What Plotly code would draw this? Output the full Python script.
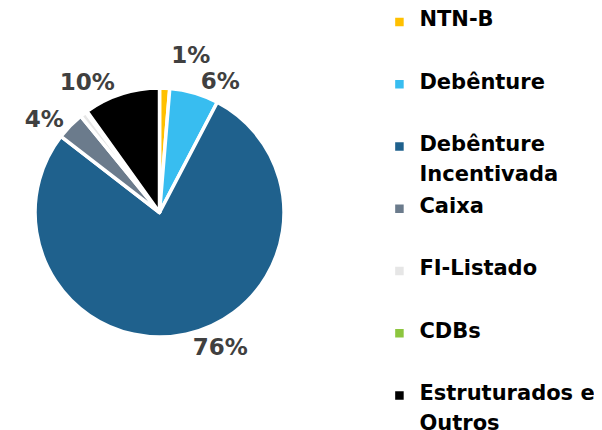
import plotly.graph_objects as go

# Composição da carteira
categorias = ["NTN-B", "Debênture", "Debênture<br>Incentivada", "Caixa",
              "FI-Listado", "CDBs", "Estruturados e<br>Outros"]
valores = [1.3, 6.3, 77.0, 3.6, 0.8, 0.2, 9.8]
rotulos = ["1%", "6%", "76%", "4%", "", "", "10%"]
cores = ["#FFC000", "#38BDF0", "#1F618D", "#6B7B8C", "#E6E6E6", "#8DC63F", "#000000"]


# legenda: fonte base pequena (entrelinha curta) e texto em span de 21px;
# cada item ocupa 4 linhas base para dar o espaçamento do original
def item_legenda(nome, ultimo=False):
    linhas = ['<span style="font-size:21px">%s</span>' % p for p in nome.split("<br>")]
    if len(linhas) == 1:
        texto = linhas[0] + "<br> <br> "
    else:
        texto = linhas[0] + "<br> <br>" + linhas[1]
    # o último item não precisa da linha vazia final
    return texto if ultimo else texto + "<br> "


nomes_legenda = [item_legenda(c, i == len(categorias) - 1) for i, c in enumerate(categorias)]
# cor do texto vai no span, assim a linha-guia do plotly fica invisível
textos = ['<span style="color:#404040;fill-opacity:1">%s</span>' % r if r else "" for r in rotulos]

fig = go.Figure(go.Pie(
    labels=nomes_legenda,
    values=valores,
    text=textos,
    textinfo="text",
    textposition="outside",
    textfont=dict(family="DejaVu Sans", size=23, color="rgba(64,64,64,0)", weight="bold"),
    marker=dict(colors=cores, line=dict(color="white", width=3.5)),
    sort=False,
    direction="clockwise",
    rotation=0,
    # a página tem 8px de margem no body: posições já descontadas
    domain=dict(x=[0.0449, 0.4585], y=[0.2848, 0.8261]),
    hoverinfo="percent",
))

fig.update_layout(
    width=602,
    height=460,
    margin=dict(l=0, r=0, t=0, b=0, autoexpand=False),
    paper_bgcolor="white",
    showlegend=True,
    legend=dict(
        x=0.617, y=1.0, xanchor="left", yanchor="top",
        font=dict(family="DejaVu Sans", size=11.4, color="#000000", weight="bold"),
        valign="top",
        traceorder="normal",
    ),
)

fig.write_html("out.html")
